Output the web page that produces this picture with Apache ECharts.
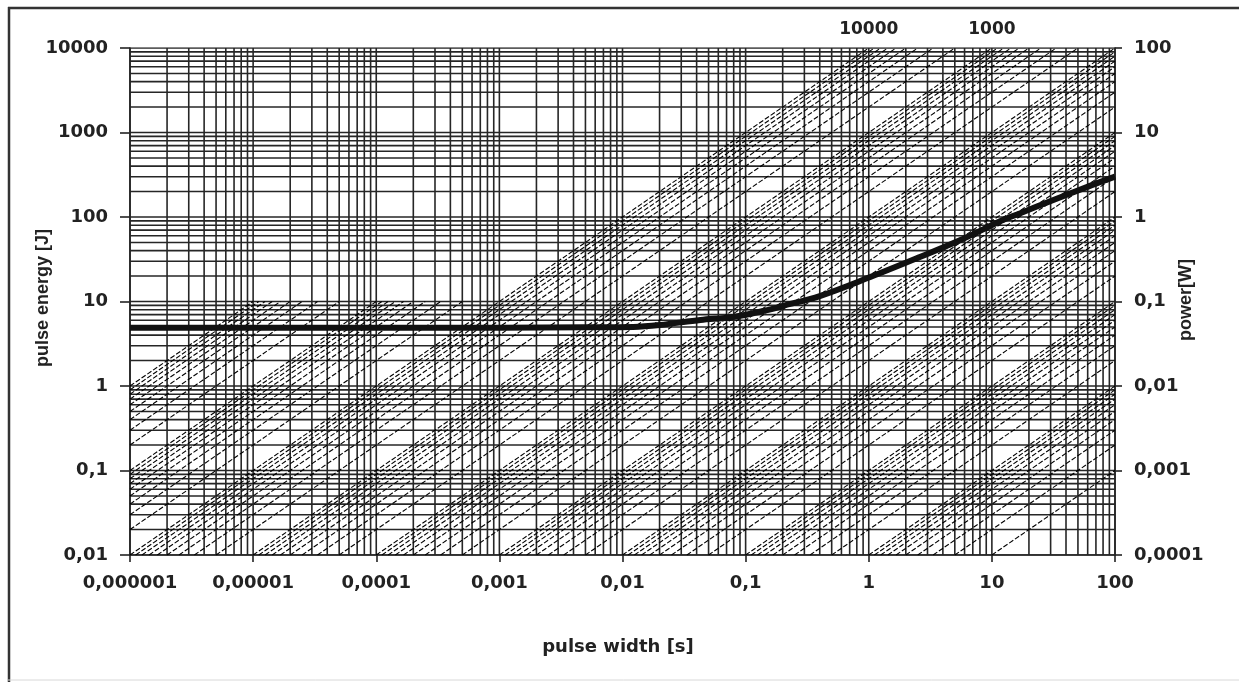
<!DOCTYPE html>
<html><head><meta charset="utf-8">
<script src="https://cdn.jsdelivr.net/npm/echarts@6/dist/echarts.min.js"></script>
<style>html,body{margin:0;padding:0;background:#fff}#c{width:1239px;height:682px}</style>
</head><body><div id="c"></div>
<script>
// ---- data ----
const xTickLabels = ['0,000001','0,00001','0,0001','0,001','0,01','0,1','1','10','100'];
const yTickLabels = ['0,01','0,1','1','10','100','1000','10000'];
const y2TickLabels = ['0,0001','0,001','0,01','0,1','1','10','100'];
const xDecades = [1e-6,1e-5,1e-4,1e-3,1e-2,1e-1,1,10];
const yDecades = [0.01,0.1,1,10,100,1000];
const minorMultipliers = [2,3,4,5,6,7,8,9];
// constant-power lines  P = n * decade  [W]
const powerMultipliers = [1,2,3,4,5,6,7,8,9];
const powerDecades = [1e-3,1e-2,1e-1,1,10,100,1e3,1e4,1e5,1e6];
const topLabelPowers = [10000, 1000];
// thick curve: pulse energy [J] vs pulse width [s]
const curveT = [1e-6,1e-5,1e-4,1e-3,0.005,0.0122,0.02,0.043,0.079,0.15,0.2,0.4,1.03,2.6,5.5,12.3,17,31.6,59,100];
const curveE = [4.9,4.9,4.9,4.9,4.95,5.0,5.27,6.04,6.56,7.9,8.85,11.6,19.5,33.6,53,92,111,159,226,300];

const X_MIN = 1e-6, X_MAX = 100, Y_MIN = 0.01, Y_MAX = 10000;
const gridColor = '#262626';
const font = '"DejaVu Sans", sans-serif';

const chart = echarts.init(document.getElementById('c'), null, {renderer:'canvas'});

const series = [];
function seg(data, style, z){
  series.push({type:'line', silent:true, animation:false, symbol:'none', data:data, lineStyle:style, z:z});
}
// grid lines (major + log-spaced minor)
const vLines = [], hLines = [];
xDecades.forEach(function(d){ vLines.push(d); minorMultipliers.forEach(function(m){ vLines.push(d*m); }); });
vLines.push(X_MAX);
yDecades.forEach(function(d){ hLines.push(d); minorMultipliers.forEach(function(m){ hLines.push(d*m); }); });
hLines.push(Y_MAX);
vLines.forEach(function(v){ seg([[v,Y_MIN],[v,Y_MAX]], {color:gridColor, width:1.6, type:'solid'}, 2); });
hLines.forEach(function(v){ seg([[X_MIN,v],[X_MAX,v]], {color:gridColor, width:1.6, type:'solid'}, 2); });

// power lines
powerDecades.forEach(function(d){
  powerMultipliers.forEach(function(n){
    if (d === 1e6 && n > 1) return;
    const P = n * d;
    const cap = P > 1e4 ? 10 : Y_MAX;
    const t0 = Math.max(X_MIN, Y_MIN / P);
    const t1 = Math.min(X_MAX, cap / P);
    if (t1 <= t0) return;
    seg([[t0, P*t0],[t1, P*t1]], {color:'#000', width:1.1, type:[5,2]}, 3);
  });
});

// top labels + thick curve
series.push({
  type:'line', silent:true, animation:false, symbol:'none', smooth:0.35,
  data: curveT.map(function(t,i){return [t, curveE[i]];}),
  lineStyle:{color:'#111', width:6}, z:5,
  markPoint:{
    silent:true, animation:false, symbol:'circle', symbolSize:0,
    label:{show:true, position:'top', distance:10, color:'#222', fontFamily:font, fontWeight:'bold', fontSize:17,
      formatter:function(p){return p.name;}},
    data: topLabelPowers.map(function(P){ return {name:String(P), coord:[Y_MAX/P, Y_MAX]}; })
  }
});

function labelFrom(arr, minExp){
  return function(v){ const i = Math.round(Math.log10(v)) - minExp; return arr[i] !== undefined ? arr[i] : ''; };
}

chart.setOption({
  backgroundColor:'#fff',
  animation:false,
  grid:{left:130, right:124, top:48, bottom:127, containLabel:false},
  xAxis:{
    type:'log', logBase:10, min:X_MIN, max:X_MAX, splitNumber:8,
    axisLine:{show:true, lineStyle:{color:'#222', width:1.6}},
    axisTick:{show:true, length:7, lineStyle:{color:'#222', width:1.6}},
    minorTick:{show:false}, splitLine:{show:false},
    axisLabel:{margin:19, color:'#222', fontFamily:font, fontWeight:'bold', fontSize:18, formatter:labelFrom(xTickLabels,-6)}
  },
  yAxis:[{
    type:'log', logBase:10, min:Y_MIN, max:Y_MAX, splitNumber:6,
    axisLine:{show:true, lineStyle:{color:'#222', width:1.6}},
    axisTick:{show:true, length:10, lineStyle:{color:'#222', width:1.6}},
    splitLine:{show:false},
    axisLabel:{margin:22, color:'#222', fontFamily:font, fontWeight:'bold', fontSize:18, formatter:labelFrom(yTickLabels,-2)}
  },{
    type:'log', logBase:10, min:1e-4, max:100, splitNumber:6, position:'right',
    axisLine:{show:true, lineStyle:{color:'#222', width:1.6}},
    axisTick:{show:true, length:7, lineStyle:{color:'#222', width:1.6}},
    splitLine:{show:false},
    axisLabel:{margin:19, color:'#222', fontFamily:font, fontWeight:'bold', fontSize:18, formatter:labelFrom(y2TickLabels,-4)}
  }],
  graphic:[
    {type:'line', shape:{x1:9, y1:7, x2:9, y2:682}, style:{stroke:'#333', lineWidth:2.5}, silent:true},
    {type:'line', shape:{x1:8, y1:8, x2:1239, y2:8}, style:{stroke:'#333', lineWidth:2.5}, silent:true},
    {type:'line', shape:{x1:8, y1:680, x2:1239, y2:680}, style:{stroke:'#d8d8d8', lineWidth:1}, silent:true},
    {type:'text', x:43, y:298, rotation:Math.PI/2, silent:true,
      style:{text:'pulse energy [J]', fill:'#222', font:'bold 18px "Liberation Sans", Arial, sans-serif', textAlign:'center', textVerticalAlign:'middle'}},
    {type:'text', x:1186, y:300, rotation:Math.PI/2, silent:true,
      style:{text:'power[W]', fill:'#222', font:'bold 18px "Liberation Sans", Arial, sans-serif', textAlign:'center', textVerticalAlign:'middle'}},
    {type:'text', x:618, y:647, silent:true,
      style:{text:'pulse width [s]', fill:'#222', font:'bold 18px "DejaVu Sans", sans-serif', textAlign:'center', textVerticalAlign:'middle'}}
  ],
  series:series
});
</script></body></html>
